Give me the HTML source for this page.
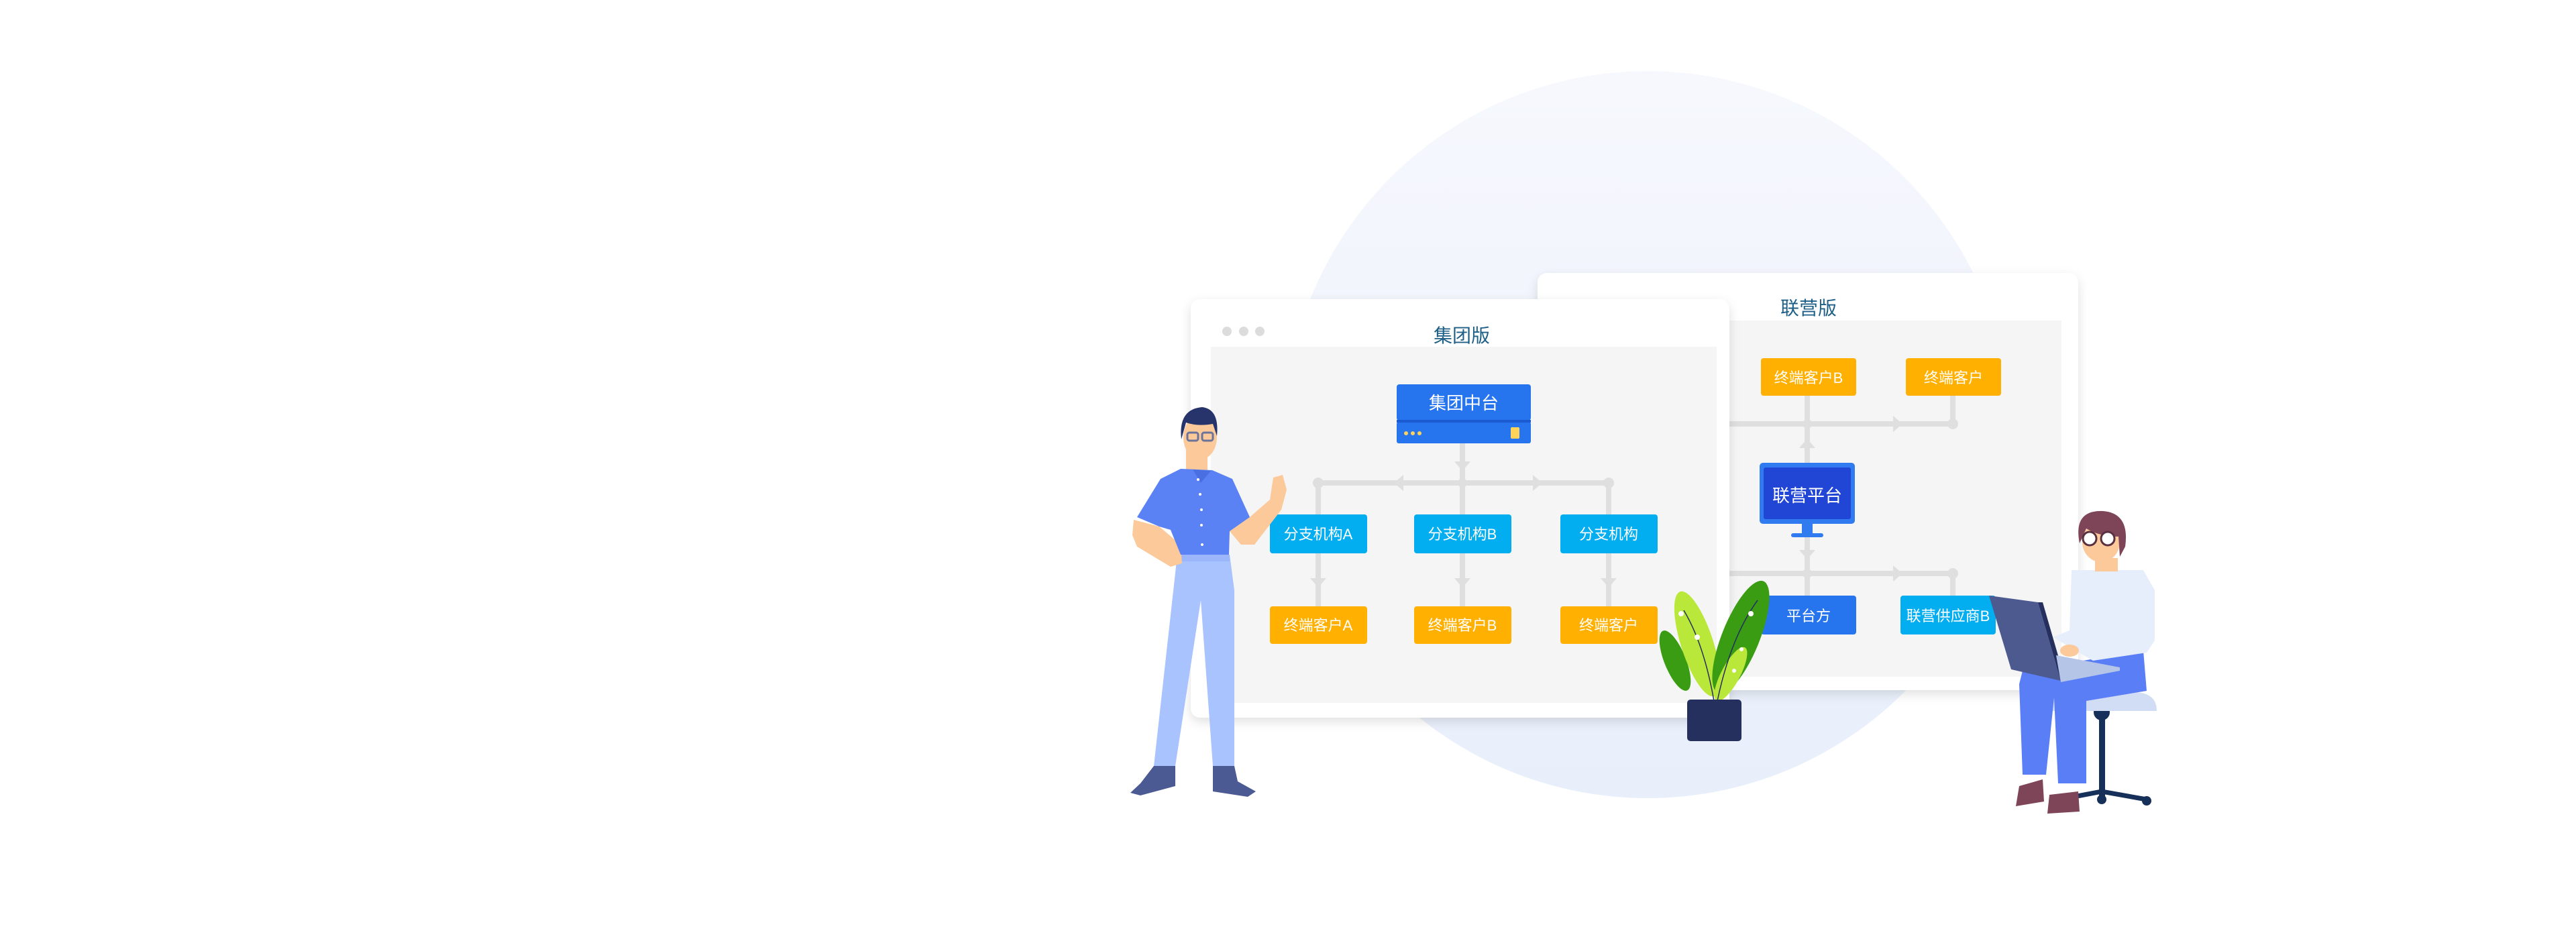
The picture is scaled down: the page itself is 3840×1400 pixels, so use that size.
<!DOCTYPE html>
<html><head><meta charset="utf-8"><style>
html,body{margin:0;padding:0;background:#fff;}
body{width:3840px;height:1400px;overflow:hidden;position:relative;font-family:"Liberation Sans","Noto Sans CJK SC",sans-serif;}
svg{position:absolute;left:0;top:0;}
text{font-family:"Liberation Sans","Noto Sans CJK SC",sans-serif;}
</style></head><body>
<svg width="3840" height="1400" viewBox="0 0 3840 1400">
<defs>
<linearGradient id="cg" x1="0" y1="0" x2="0" y2="1"><stop offset="0" stop-color="#f6f8fd"/><stop offset="1" stop-color="#e8effb"/></linearGradient>
<filter id="sh" x="-10%" y="-10%" width="120%" height="125%"><feDropShadow dx="0" dy="6" stdDeviation="8" flood-color="#000" flood-opacity="0.12"/></filter>
</defs>
<circle cx="2456" cy="648" r="542" fill="url(#cg)"/>

<!-- right window -->
<rect x="2292" y="407" width="806" height="622" rx="14" fill="#fff" filter="url(#sh)"/>
<rect x="2317" y="478" width="756" height="531" fill="#f5f5f5"/>
<text x="2696" y="469" font-size="28" fill="#1d5f86" text-anchor="middle">联营版</text>
<g stroke="#dfdfdf" stroke-width="8" fill="none" stroke-linecap="round">
<line x1="2560" y1="632" x2="2911" y2="632"/><line x1="2911" y1="590" x2="2911" y2="632"/>
<line x1="2560" y1="855" x2="2911" y2="855"/><line x1="2911" y1="855" x2="2911" y2="890"/>
<line x1="2694" y1="590" x2="2694" y2="690"/><line x1="2694" y1="800" x2="2694" y2="890"/>
</g>
<g fill="#dfdfdf">
<polygon points="2822,620 2836,632 2822,644"/><polygon points="2822,843 2836,855 2822,867"/>
<polygon points="2682,668 2694,654 2706,668"/><polygon points="2682,820 2694,834 2706,820"/>
<circle cx="2911" cy="632" r="8"/><circle cx="2911" cy="855" r="8"/><circle cx="2694" cy="632" r="7"/><circle cx="2694" cy="855" r="7"/>
</g>
<rect x="2625" y="534" width="142" height="56" rx="4" fill="#ffb000"/>
<text x="2696" y="571" font-size="22" fill="#fff" text-anchor="middle">终端客户B</text>
<rect x="2841" y="534" width="142" height="56" rx="4" fill="#ffb000"/>
<text x="2912" y="571" font-size="22" fill="#fff" text-anchor="middle">终端客户</text>
<rect x="2623" y="690" width="142" height="91" rx="5" fill="#2f7bef"/>
<rect x="2629" y="697" width="130" height="77" rx="3" fill="#2145d4"/>
<text x="2694" y="748" font-size="26" fill="#fff" text-anchor="middle">联营平台</text>
<rect x="2686" y="781" width="16" height="15" fill="#2f7bef"/><rect x="2670" y="795" width="48" height="6" rx="3" fill="#2f7bef"/>
<rect x="2625" y="888" width="142" height="58" rx="4" fill="#2775ee"/>
<text x="2696" y="926" font-size="22" fill="#fff" text-anchor="middle">平台方</text>
<rect x="2833" y="888" width="142" height="58" rx="4" fill="#03aef0"/>
<text x="2904" y="926" font-size="22" fill="#fff" text-anchor="middle">联营供应商B</text>

<!-- left window -->
<rect x="1775" y="446" width="803" height="624" rx="14" fill="#fff" filter="url(#sh)"/>
<rect x="1805" y="517" width="754" height="531" fill="#f5f5f5"/>
<circle cx="1829" cy="494" r="7" fill="#dcdcdc"/><circle cx="1854" cy="494" r="7" fill="#dcdcdc"/><circle cx="1878" cy="494" r="7" fill="#dcdcdc"/>
<text x="2179" y="510" font-size="28" fill="#1d5f86" text-anchor="middle">集团版</text>
<g stroke="#dfdfdf" stroke-width="8" fill="none" stroke-linecap="round">
<line x1="2180" y1="661" x2="2180" y2="767"/><line x1="1965" y1="720" x2="2398" y2="720"/>
<line x1="1965" y1="720" x2="1965" y2="904"/><line x1="2180" y1="825" x2="2180" y2="904"/><line x1="2398" y1="720" x2="2398" y2="904"/>
</g>
<g fill="#dfdfdf">
<polygon points="2168,688 2180,702 2192,688"/>
<polygon points="2092,708 2078,720 2092,732"/><polygon points="2285,708 2299,720 2285,732"/>
<polygon points="1953,862 1965,876 1977,862"/><polygon points="2168,862 2180,876 2192,862"/><polygon points="2386,862 2398,876 2410,862"/>
<circle cx="1965" cy="720" r="8"/><circle cx="2398" cy="720" r="8"/><circle cx="2180" cy="720" r="7"/>
</g>
<rect x="2082" y="573" width="200" height="54" rx="4" fill="#2775ee"/>
<text x="2182" y="610" font-size="26" fill="#fff" text-anchor="middle">集团中台</text>
<rect x="2082" y="629" width="200" height="32" rx="3" fill="#2775ee"/>
<rect x="2082" y="626" width="200" height="4" fill="#1b5ad0"/>
<circle cx="2096" cy="646" r="3" fill="#ffd35a"/><circle cx="2106" cy="646" r="3" fill="#ffd35a"/><circle cx="2116" cy="646" r="3" fill="#ffd35a"/>
<rect x="2252" y="637" width="13" height="17" rx="2" fill="#ffd35a"/>
<g font-size="22" fill="#fff" text-anchor="middle">
<rect x="1893" y="767" width="145" height="58" rx="4" fill="#03aef0"/><text x="1965" y="804">分支机构A</text>
<rect x="2108" y="767" width="145" height="58" rx="4" fill="#03aef0"/><text x="2180" y="804">分支机构B</text>
<rect x="2326" y="767" width="145" height="58" rx="4" fill="#03aef0"/><text x="2398" y="804">分支机构</text>
<rect x="1893" y="904" width="145" height="56" rx="4" fill="#ffb000"/><text x="1965" y="940">终端客户A</text>
<rect x="2108" y="904" width="145" height="56" rx="4" fill="#ffb000"/><text x="2180" y="940">终端客户B</text>
<rect x="2326" y="904" width="145" height="56" rx="4" fill="#ffb000"/><text x="2398" y="940">终端客户</text>
</g>

<!-- plant -->
<ellipse cx="2497" cy="985" rx="16" ry="48" transform="rotate(-22 2497 985)" fill="#3a9c12"/>
<ellipse cx="2530" cy="960" rx="24" ry="82" transform="rotate(-18 2530 960)" fill="#b9e83a"/>
<ellipse cx="2595" cy="950" rx="28" ry="90" transform="rotate(22 2595 950)" fill="#3a9c12"/>
<ellipse cx="2580" cy="1005" rx="14" ry="45" transform="rotate(28 2580 1005)" fill="#b9e83a"/>
<g stroke="#25305f" stroke-width="1.5" fill="none"><path d="M2555 1045 Q2540 960 2510 910"/><path d="M2560 1045 Q2580 950 2620 895"/></g>
<g fill="#fff"><circle cx="2506" cy="915" r="4"/><circle cx="2530" cy="950" r="4"/><circle cx="2610" cy="915" r="4"/><circle cx="2596" cy="968" r="3"/><circle cx="2585" cy="1000" r="3"/></g>
<rect x="2515" y="1043" width="81" height="62" rx="5" fill="#25305f"/>

<!-- left man -->
<polygon points="1720,1142 1752,1142 1752,1172 1700,1186 1685,1182 1700,1168" fill="#4b5a93"/>
<polygon points="1808,1142 1840,1142 1845,1165 1872,1180 1860,1188 1808,1180" fill="#4b5a93"/>
<polygon points="1755,827 1833,827 1840,880 1840,1142 1808,1142 1790,895 1752,1142 1720,1142" fill="#a9c3fe"/>
<rect x="1755" y="827" width="78" height="10" fill="#9bb6fa"/>
<polygon points="1690,775 1728,785 1760,812 1762,840 1745,845 1695,815 1688,798" fill="#fbc99a"/>
<polygon points="1833,792 1863,771 1893,745 1898,712 1912,708 1918,730 1910,760 1870,812 1850,812" fill="#fbc99a"/>
<rect x="1768" y="670" width="32" height="32" fill="#fbc99a"/>
<polygon points="1730,714 1760,699 1807,701 1837,714 1863,771 1833,792 1832,827 1760,827 1745,790 1728,785 1695,771" fill="#5a82f4"/>
<polygon points="1778,700 1790,720 1805,702" fill="#4a6fe0"/>
<g fill="#fff"><circle cx="1786" cy="715" r="2"/><circle cx="1789" cy="737" r="2"/><circle cx="1791" cy="760" r="2"/><circle cx="1791" cy="783" r="2"/><circle cx="1792" cy="812" r="2"/></g>
<ellipse cx="1789" cy="652" rx="25" ry="33" fill="#fbc99a"/>
<path d="M1761 655 Q1756 610 1792 607 Q1818 610 1814 650 L1808 632 Q1785 636 1768 630 Z" fill="#27336b"/>
<g stroke="#6a7399" stroke-width="3" fill="none"><rect x="1770" y="645" width="16" height="12" rx="3"/><rect x="1792" y="645" width="16" height="12" rx="3"/></g>

<!-- right man -->
<rect x="3129" y="1060" width="9" height="130" fill="#16305a"/>
<path d="M3070 1192 L3133 1180 L3200 1192" stroke="#16305a" stroke-width="7" fill="none"/>
<circle cx="3070" cy="1194" r="7" fill="#16305a"/><circle cx="3133" cy="1192" r="7" fill="#16305a"/><circle cx="3200" cy="1194" r="7" fill="#16305a"/>
<circle cx="3133" cy="1062" r="12" fill="#16305a"/>
<path d="M3053 1060 Q3053 1032 3100 1032 L3180 1032 Q3215 1032 3215 1060 Z" fill="#d1ddf5"/>
<polygon points="3010,1172 3045,1162 3047,1195 3005,1202" fill="#7e4558"/>
<polygon points="3055,1185 3098,1180 3100,1210 3052,1213" fill="#7e4558"/>
<polygon points="3015,1000 3195,970 3200,1030 3110,1045 3110,1168 3068,1168 3062,1040 3050,1155 3015,1155 3010,1020" fill="#5a7ef6"/>
<polygon points="3088,850 3195,850 3212,880 3212,955 3200,973 3120,985 3060,950 3085,940" fill="#e6eefc"/>
<rect x="3123" y="832" width="34" height="20" fill="#fbc99a"/>
<ellipse cx="3132" cy="808" rx="28" ry="30" fill="#fbc99a"/>
<path d="M3100 810 Q3090 760 3135 762 Q3175 765 3168 815 L3160 830 L3158 800 Q3130 800 3110 788 Z" fill="#7e4558"/>
<g stroke="#5a3040" stroke-width="3" fill="#fff"><circle cx="3115" cy="803" r="10"/><circle cx="3142" cy="803" r="10"/></g>
<polygon points="2965,888 3038,898 3072,1015 2998,998" fill="#4d5a90"/>
<polygon points="3038,898 3045,898 3078,1012 3072,1015" fill="#25305f"/>
<polygon points="3065,977 3160,995 3160,1000 3072,1017" fill="#b5c5e8"/>
<ellipse cx="3085" cy="970" rx="14" ry="9" fill="#fbc99a"/>
</svg>
</body></html>
